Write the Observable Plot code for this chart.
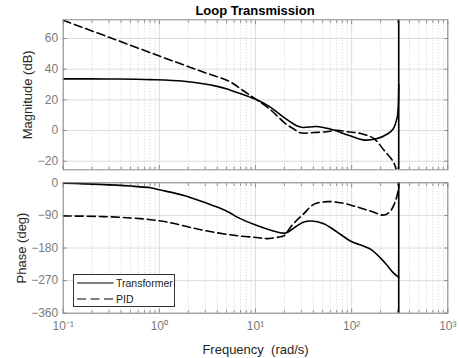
<!DOCTYPE html>
<html>
<head>
<meta charset="utf-8">
<script src="https://cdn.jsdelivr.net/npm/d3@7"></script>
<script src="https://cdn.jsdelivr.net/npm/@observablehq/plot@0.6"></script>
<style>
  body { margin: 0; background: #fff; font-family: "Liberation Sans", Arial, Helvetica, sans-serif; }
  #wrap { position: relative; width: 459px; height: 358px; overflow: hidden; background: #fff; }
  #wrap > * { position: absolute; }
  #title { left: 62.7px; width: 384.6px; top: 3px; text-align: center; font-weight: bold; font-size: 13px; color: #000; line-height: 15px; }
  #legend { left: 72.7px; top: 274.3px; width: 102.5px; height: 32.5px; border: 1px solid #333; background: #fff; box-sizing: border-box; }
</style>
</head>
<body>
<div id="wrap">
  <div id="title">Loop Transmission</div>
</div>
<script>
// ---- data ----
const seriesNames = ["Transformer", "PID"];

const freqTicks = [0.1, 1, 10, 100, 1000];
const freqTickLabels = ["10\u207B\u00B9", "10\u2070", "10\u00B9", "10\u00B2", "10\u00B3"];
const magTicks = [-20, 0, 20, 40, 60];
const phaseTicks = [-360, -270, -180, -90, 0];

// smooth part of each curve
const tfMagFreq = [0.1, 0.3, 0.81, 1.8, 4.0, 5.4, 7.4, 10.2, 14, 19.2, 26.5, 31, 42.8, 58.6, 95, 131, 180, 238, 270, 298, 305, 309];
const tfMag     = [33.7, 33.6, 33.2, 32.1, 28.8, 26.5, 23.5, 20.2, 15.6, 9.1, 3.3, 2.0, 2.6, 1.1, -3.3, -6.1, -5.4, -2.1, 1, 8.7, 15, 30];
// resonance (vertical) part at the end of the transformer curve
const tfMagJumpFreq = [309, 309, 309];
const tfMagJump     = [30, 300, -300];

const pidMagFreq = [0.1, 0.3, 1, 2.68, 5.38, 7.4, 10.2, 14, 20.5, 25, 29.4, 40.4, 55, 70.8, 90, 124, 170, 216, 274, 300, 309];
const pidMag     = [71.9, 60.8, 48.6, 38.8, 31.9, 26.1, 20.2, 14.1, 4.5, 1, -1.5, -1.3, -0.8, 0.2, -0.8, -1.9, -5.2, -12.7, -20.9, -30, -40];

const tfPhaseFreq = [0.1, 0.24, 0.5, 0.81, 1, 1.8, 2.68, 4.0, 5.35, 6.45, 10.2, 16.8, 20.5, 26, 31.8, 38.3, 51.3, 70.8, 97, 157, 200, 229, 270, 309];
const tfPhase     = [-1, -4.4, -9, -13.8, -19.3, -35, -50, -67, -82, -94.7, -117.5, -136, -138.5, -122, -108.4, -105.4, -113, -136, -160.5, -183, -208, -225, -248, -261];
const tfPhaseJumpFreq = [309, 309, 309];
const tfPhaseJump     = [-261, -400, 50];

const pidPhaseFreq = [0.1, 0.24, 0.5, 0.81, 1.21, 2.68, 5.94, 10.2, 13.2, 18.2, 19.7, 23.2, 27.2, 31.3, 40.4, 55.7, 80, 105, 157, 216, 253, 286, 309];
const pidPhase     = [-91.6, -93, -97, -101.8, -108.4, -129.4, -145, -151, -154, -149, -146.7, -122, -102, -87, -59.5, -52, -56, -64, -78, -89, -78, -50, -14];
const pidPhaseJumpFreq = [309, 309];
const pidPhaseJump     = [-14, 50];

// ---- helpers ----
const toRows = (fs, vs) => fs.map((f, i) => ({f, v: vs[i]}));

const minorFreq = d3.scaleLog().domain([0.1, 1000]).ticks().filter(t => !freqTicks.some(m => Math.abs(m - t) / m < 1e-9));

const W = 459, ML = 62.7, MR = 11.7;
const gridMajor = "#dcdcdc", gridMinor = "#cfcfcf", frameCol = "#8a8a8a", tickCol = "#7a7a7a", labelCol = "#262626";
const dash = "8,4";
const lw = 1.6;
const font = "'Liberation Sans', Arial, Helvetica, sans-serif";

function panel({height, marginTop, marginBottom, yDomain, yTicks, rowsT, jumpT, rowsP, jumpP, yLabel, yLabelOffset, showX}) {
  const marks = [
    Plot.gridX(minorFreq, {stroke: gridMinor, strokeOpacity: 1, strokeDasharray: "1,2"}),
    Plot.gridX(freqTicks, {stroke: gridMajor, strokeOpacity: 1}),
    Plot.gridY(yTicks, {stroke: gridMajor, strokeOpacity: 1}),
    // inward tick marks on all four sides
    Plot.axisX(minorFreq, {anchor: "bottom", tickSize: -2.5, tickFormat: () => "", stroke: frameCol, label: null}),
    Plot.axisX(minorFreq, {anchor: "top", tickSize: -2.5, tickFormat: () => "", stroke: frameCol, label: null}),
    Plot.axisX(freqTicks, {anchor: "top", tickSize: -4, tickFormat: () => "", stroke: frameCol, label: null}),
    Plot.axisX(freqTicks, {anchor: "bottom", tickSize: -4, tickFormat: () => "", stroke: frameCol, label: null}),
    Plot.axisY(yTicks, {anchor: "right", tickSize: -4, tickFormat: () => "", stroke: frameCol, label: null}),
    Plot.axisY(yTicks, {anchor: "left", tickSize: -4, tickFormat: () => "", stroke: frameCol, label: null}),
    // tick labels
    Plot.axisY(yTicks, {anchor: "left", tickSize: 0, tickPadding: 5, fill: tickCol, fontSize: 12, label: null}),
    // axis title
    Plot.axisY([], {anchor: "left", tickSize: 0, fill: labelCol, fontSize: 13,
      label: yLabel, labelAnchor: "center", labelArrow: "none", labelOffset: yLabelOffset}),
    showX ? Plot.axisX(freqTicks, {anchor: "bottom", tickSize: 0, tickPadding: 8, fill: tickCol, fontSize: 12,
          tickFormat: d => freqTickLabels[freqTicks.indexOf(d)], label: null}) : null,
    showX ? Plot.axisX([], {anchor: "bottom", tickSize: 0, fill: labelCol, fontSize: 13,
          label: "Frequency\u00A0 (rad/s)", labelAnchor: "center", labelArrow: "none", labelOffset: 41}) : null,
    Plot.line(rowsT, {x: "f", y: "v", stroke: "#000", strokeWidth: lw, curve: "catmull-rom", clip: true}),
    Plot.line(jumpT, {x: "f", y: "v", stroke: "#000", strokeWidth: lw, clip: true}),
    Plot.line(rowsP, {x: "f", y: "v", stroke: "#000", strokeWidth: lw, strokeDasharray: dash, curve: "catmull-rom", clip: true}),
    jumpP ? Plot.line(jumpP, {x: "f", y: "v", stroke: "#000", strokeWidth: lw, strokeDasharray: dash, clip: true}) : null,
    Plot.frame({stroke: frameCol, strokeWidth: 1})
  ].filter(Boolean);
  return Plot.plot({
    width: W, height, marginLeft: ML, marginRight: MR, marginTop, marginBottom,
    style: {fontFamily: font, fontSize: "13px", color: labelCol, background: "transparent"},
    x: {type: "log", domain: [0.1, 1000], axis: null},
    y: {domain: yDomain, axis: null},
    marks
  });
}

const wrapEl = document.getElementById("wrap");

const magPanel = panel({
  height: 180, marginTop: 19.3, marginBottom: 10.7, yDomain: [-25.6, 72.2], yTicks: magTicks,
  rowsT: toRows(tfMagFreq, tfMag), jumpT: toRows(tfMagJumpFreq, tfMagJump),
  rowsP: toRows(pidMagFreq, pidMag), jumpP: null,
  yLabel: "Magnitude (dB)", yLabelOffset: 40.5, showX: false
});
magPanel.style.left = "0px"; magPanel.style.top = "0px";
wrapEl.appendChild(magPanel);

const phasePanel = panel({
  height: 188, marginTop: 12.3, marginBottom: 45.3, yDomain: [-360, 0], yTicks: phaseTicks,
  rowsT: toRows(tfPhaseFreq, tfPhase), jumpT: toRows(tfPhaseJumpFreq, tfPhaseJump),
  rowsP: toRows(pidPhaseFreq, pidPhase), jumpP: toRows(pidPhaseJumpFreq, pidPhaseJump),
  yLabel: "Phase (deg)", yLabelOffset: 46, showX: true
});
phasePanel.style.left = "0px"; phasePanel.style.top = "170px";
wrapEl.appendChild(phasePanel);

// legend overlay
const legendEl = document.createElement("div");
legendEl.id = "legend";
const ns = "http://www.w3.org/2000/svg";
const lsvg = document.createElementNS(ns, "svg");
lsvg.setAttribute("width", "101"); lsvg.setAttribute("height", "31");
lsvg.style.display = "block";
seriesNames.forEach((name, i) => {
  const y = 8 + i * 16;
  const ln = document.createElementNS(ns, "line");
  ln.setAttribute("x1", 3); ln.setAttribute("x2", 39.6); ln.setAttribute("y1", y); ln.setAttribute("y2", y);
  ln.setAttribute("stroke", "#000"); ln.setAttribute("stroke-width", 1.1);
  if (i === 1) ln.setAttribute("stroke-dasharray", "9,4.5");
  lsvg.appendChild(ln);
  const tx = document.createElementNS(ns, "text");
  tx.setAttribute("x", 42); tx.setAttribute("y", y + 4);
  tx.setAttribute("font-size", "10.5"); tx.setAttribute("fill", "#222");
  tx.setAttribute("font-family", font);
  tx.textContent = name;
  lsvg.appendChild(tx);
});
legendEl.appendChild(lsvg);
wrapEl.appendChild(legendEl);
</script>
</body>
</html>
